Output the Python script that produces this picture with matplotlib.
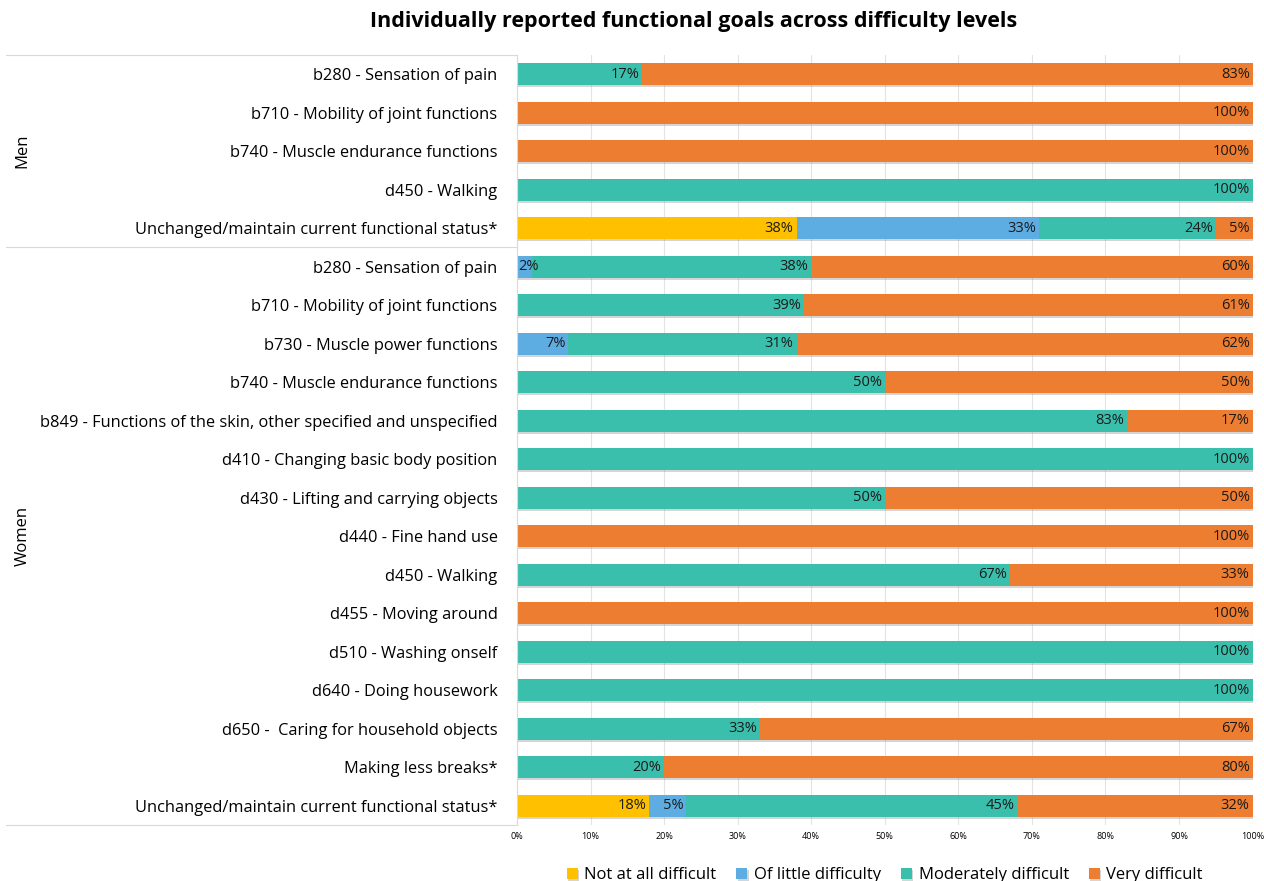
import numpy as np
import matplotlib.pyplot as plt
import matplotlib.patheffects as pe

plt.rcParams['font.family'] = ['Open Sans', 'DejaVu Sans']

# categories, top to bottom
labels = [
    'b280 - Sensation of pain',
    'b710 - Mobility of joint functions',
    'b740 - Muscle endurance functions',
    'd450 - Walking',
    'Unchanged/maintain current functional status*',
    'b280 - Sensation of pain',
    'b710 - Mobility of joint functions',
    'b730 - Muscle power functions',
    'b740 - Muscle endurance functions',
    'b849 - Functions of the skin, other specified and unspecified',
    'd410 - Changing basic body position',
    'd430 - Lifting and carrying objects',
    'd440 - Fine hand use',
    'd450 - Walking',
    'd455 - Moving around',
    'd510 - Washing onself',
    'd640 - Doing housework',
    'd650 -  Caring for household objects',
    'Making less breaks*',
    'Unchanged/maintain current functional status*',
]
groups = ['Men', 'Women']
group_sizes = [5, 15]

series_names = ['Not at all difficult', 'Of little difficulty',
                'Moderately difficult', 'Very difficult']
not_at_all = [0, 0, 0, 0, 38, 0, 0, 0, 0, 0, 0, 0, 0, 0, 0, 0, 0, 0, 0, 18]
little     = [0, 0, 0, 0, 33, 2, 0, 7, 0, 0, 0, 0, 0, 0, 0, 0, 0, 0, 0, 5]
moderate   = [17, 0, 0, 100, 24, 38, 39, 31, 50, 83, 100, 50, 0, 67, 0, 100, 100, 33, 20, 45]
very       = [83, 100, 100, 0, 5, 60, 61, 62, 50, 17, 0, 50, 100, 33, 100, 0, 0, 67, 80, 32]
colors = ['#FFC000', '#5DADE2', '#3BBFAD', '#ED7D31']

fig = plt.figure(figsize=(12.64, 8.81), dpi=100)
ax = fig.add_axes([0.409, 0.0636, 0.582, 0.874])

y = np.arange(len(labels))
left = np.zeros(len(labels))
shadow = [pe.SimplePatchShadow(offset=(1, -1.5), shadow_rgbFace='#888888', alpha=0.35), pe.Normal()]
for name, vals, c in zip(series_names, [not_at_all, little, moderate, very], colors):
    vals = np.array(vals, dtype=float)
    bars = ax.barh(y, vals, left=left, height=0.58, color=c, label=name, zorder=2)
    for b in bars:
        b.set_path_effects(shadow)
    for yi, l, v in zip(y, left, vals):
        if v <= 0:
            continue
        if v < 4:
            ax.text(l + 0.2, yi, f'{int(v)}%', ha='left', va='center',
                    fontsize=10.5, color='#1a1a1a', zorder=3)
        else:
            ax.text(l + v - 0.4, yi, f'{int(v)}%', ha='right', va='center',
                    fontsize=10.5, color='#1a1a1a', zorder=3)
    left += vals

ax.set_xlim(0, 100)
ax.set_ylim(len(labels) - 0.5, -0.5)
ax.set_yticks(y)
ax.set_yticklabels(labels, fontsize=11.8)
ax.set_xticks(np.arange(0, 101, 10))
ax.set_xticklabels([f'{t}%' for t in range(0, 101, 10)], fontsize=6.5)
ax.tick_params(axis='both', length=0)
ax.tick_params(axis='y', pad=14)
ax.tick_params(axis='x', pad=5)
ax.grid(axis='x', color='#e3e3e3', linewidth=0.8, zorder=0)
for s in ['top', 'right', 'bottom']:
    ax.spines[s].set_visible(False)
ax.spines['left'].set_color('#d9d9d9')

# group separators and group labels
tr = ax.get_yaxis_transform()
start = -0.5
for g, n in zip(groups, group_sizes):
    ax.plot([-0.695, 0], [start, start], transform=tr, color='#d9d9d9',
            linewidth=0.8, clip_on=False)
    ax.text(-0.672, start + n / 2, g, transform=tr, rotation=90,
            ha='center', va='center', fontsize=12)
    start += n
ax.plot([-0.695, 0], [start, start], transform=tr, color='#d9d9d9',
        linewidth=0.8, clip_on=False)

fig.suptitle('Individually reported functional goals across difficulty levels',
             x=0.549, y=0.988, fontsize=15.5, fontweight='bold')

ax.legend(loc='center', bbox_to_anchor=(0.5, -0.065), ncol=4, frameon=False,
          fontsize=12, handlelength=0.65, handleheight=0.65, handletextpad=0.4,
          columnspacing=1.2)

fig.savefig('out.png', dpi=100)
